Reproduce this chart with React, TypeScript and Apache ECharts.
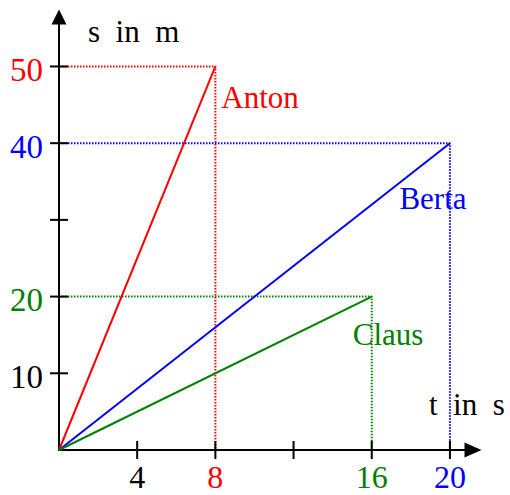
import React, { useEffect, useRef } from 'react';
import * as echarts from 'echarts';

const runnerNames = ['Anton', 'Berta', 'Claus'];
const runnerTimes = [8, 20, 16];
const runnerDistances = [50, 40, 20];
const runnerColors = ['#ff0000', '#0000ff', '#008000'];
const xTickValues = [4, 8, 12, 16, 20];
const xLabelValues = [4, 8, 16, 20];
const yTickValues = [10, 20, 30, 40, 50];
const yLabelValues = [10, 20, 40, 50];
const xTitle = 't  in  s';
const yTitle = 's  in  m';

const FONT = "'Liberation Serif', 'Times New Roman', serif";
const TEXT_SIZE = 31;
const TICK_SIZE = 33;
const X_TICK_SIZE = 32;
const NAME_OFFSETS: [number, number][] = [[6, 31], [-50.5, 55], [-19, 38]];

function makeRich(fontSize: number, lineHeight?: number) {
  const base: any = { fontSize, fontFamily: FONT };
  if (lineHeight) base.lineHeight = lineHeight;
  const r: Record<string, any> = { kn: { ...base, color: '#000' } };
  runnerColors.forEach((c, i) => {
    r['k' + i] = { ...base, color: c };
  });
  return r;
}

function labelFormatter(ref: number[]) {
  return (v: number) => {
    const i = ref.indexOf(Number(v));
    return `{${i >= 0 ? 'k' + i : 'kn'}|${v}}`;
  };
}

export default function App() {
  const ref = useRef<HTMLDivElement>(null);
  useEffect(() => {
    if (!ref.current) return;
    const chart = echarts.init(ref.current, undefined, { renderer: 'svg' });

    const guideSeries = runnerNames.map((n, i) => ({
      type: 'line',
      name: n + '-guide',
      data: [[0, runnerDistances[i]], [runnerTimes[i], runnerDistances[i]], [runnerTimes[i], 0]],
      symbol: 'none',
      silent: true,
      z: 1,
      lineStyle: { color: runnerColors[i], width: 2, type: [1.5, 1.5] },
    }));

    const runnerSeries = runnerNames.map((n, i) => ({
      type: 'line',
      name: n,
      z: 3,
      symbol: 'circle',
      symbolSize: 0,
      showSymbol: true,
      itemStyle: { color: runnerColors[i] },
      lineStyle: { color: runnerColors[i], width: 2 },
      data: [
        [0, 0],
        {
          value: [runnerTimes[i], runnerDistances[i]],
          label: {
            show: true,
            formatter: n,
            position: 'right',
            distance: 0,
            offset: NAME_OFFSETS[i],
            align: 'left',
            verticalAlign: 'middle',
            color: runnerColors[i],
            fontSize: TEXT_SIZE,
            fontFamily: FONT,
          },
        },
      ],
    }));

    const xTicks = {
      type: 'custom',
      clip: false,
      silent: true,
      z: 4,
      data: xTickValues.map((v) => [v, 0]),
      renderItem: (params: any, api: any) => {
        const p = api.coord([api.value(0), api.value(1)]);
        return {
          type: 'line',
          shape: { x1: p[0], y1: p[1] - 9, x2: p[0], y2: p[1] + 9 },
          style: { stroke: '#000', lineWidth: 2 },
        };
      },
    };
    const yTicks = {
      type: 'custom',
      clip: false,
      silent: true,
      z: 4,
      data: yTickValues.map((v) => [0, v]),
      renderItem: (params: any, api: any) => {
        const p = api.coord([api.value(0), api.value(1)]);
        return {
          type: 'line',
          shape: { x1: p[0] - 9, y1: p[1], x2: p[0] + 9, y2: p[1] },
          style: { stroke: '#000', lineWidth: 2 },
        };
      },
    };

    chart.setOption({
      animation: false,
      backgroundColor: '#fff',
      grid: { left: 59, right: 37, top: 17, bottom: 45, containLabel: false, outerBoundsMode: 'none' },
      xAxis: {
        type: 'value',
        min: 0,
        max: 21.18,
        splitLine: { show: false },
        axisTick: { show: false },
        axisLine: {
          show: true,
          onZero: false,
          symbol: ['none', 'triangle'],
          symbolSize: [15, 17],
          lineStyle: { color: '#000', width: 2 },
        },
        axisLabel: {
          customValues: xLabelValues,
          margin: 16,
          lineHeight: 22,
          formatter: labelFormatter(runnerTimes),
          rich: makeRich(X_TICK_SIZE, 22),
          fontSize: X_TICK_SIZE,
          fontFamily: FONT,
        },
      },
      yAxis: {
        type: 'value',
        min: 0,
        max: 56.45,
        splitLine: { show: false },
        axisTick: { show: false },
        axisLine: {
          show: true,
          onZero: false,
          symbol: ['none', 'triangle'],
          symbolSize: [15, 15],
          lineStyle: { color: '#000', width: 2 },
        },
        axisLabel: {
          customValues: yLabelValues,
          margin: 16,
          padding: [7, 0, 0, 0],
          formatter: labelFormatter(runnerDistances),
          rich: makeRich(TICK_SIZE),
          fontSize: TICK_SIZE,
          fontFamily: FONT,
        },
      },
      graphic: [
        {
          type: 'text',
          x: 88,
          y: 31,
          style: { text: yTitle, fontSize: TEXT_SIZE, fontFamily: FONT, fill: '#000', align: 'left', verticalAlign: 'middle' },
        },
        {
          type: 'text',
          x: 429,
          y: 404.5,
          style: { text: xTitle, fontSize: TEXT_SIZE, fontFamily: FONT, fill: '#000', align: 'left', verticalAlign: 'middle' },
        },
      ],
      series: [...guideSeries, ...runnerSeries, xTicks, yTicks],
    });
    return () => chart.dispose();
  }, []);
  return <div ref={ref} style={{ position: 'absolute', left: 0, top: 0, width: 510, height: 495 }} />;
}
